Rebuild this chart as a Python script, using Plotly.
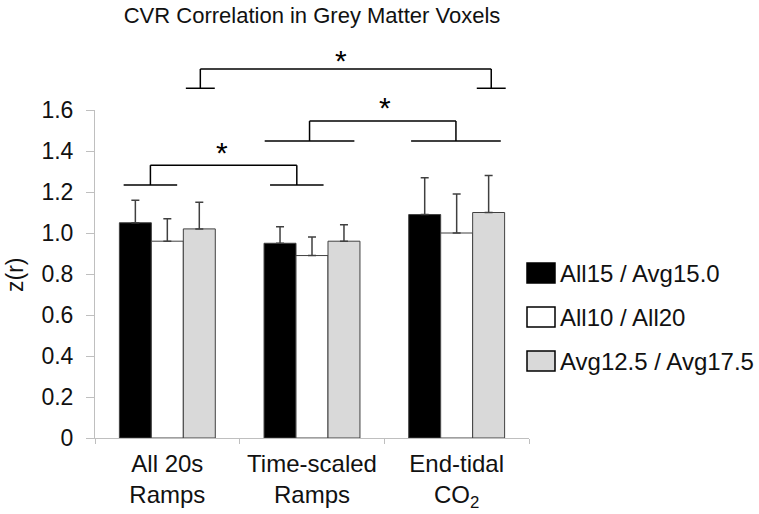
import plotly.graph_objects as go

# ---- data ----
categories = ["All 20s<br>Ramps", "Time-scaled<br>Ramps", "End-tidal<br>CO<sub>2</sub>"]
series_names = ["All15 / Avg15.0", "All10 / All20", "Avg12.5 / Avg17.5"]
black_vals = [1.05, 0.95, 1.09]
black_err = [0.11, 0.08, 0.18]
white_vals = [0.96, 0.89, 1.00]
white_err = [0.11, 0.09, 0.19]
grey_vals = [1.02, 0.96, 1.10]
grey_err = [0.13, 0.08, 0.18]
y_tickvals = [0, 0.2, 0.4, 0.6, 0.8, 1.0, 1.2, 1.4, 1.6]
y_ticktext = ["0", "0.2", "0.4", "0.6", "0.8", "1.0", "1.2", "1.4", "1.6"]

# significance brackets: (left x, right x, foot z, top z, foot half width, star x, star z)
brackets = [
    (-0.117, 0.895, 1.234, 1.331, 0.185, 0.38, 1.395),
    (0.983, 1.995, 1.449, 1.546, 0.31, 1.507, 1.61),
    (0.228, 2.239, 1.706, 1.800, 0.10, 1.20, 1.84),
]

FONT = "Liberation Sans, Arial, sans-serif"
fills = ["#000000", "#ffffff", "#d9d9d9"]
vals = [black_vals, white_vals, grey_vals]
errs = [black_err, white_err, grey_err]
xpos = list(range(len(categories)))

W, H = 759, 514
# plot area in pixels
L, R, T, B = 95, 529, 110, 438

fig = go.Figure()
for name, v, e, c in zip(series_names, vals, errs, fills):
    fig.add_trace(go.Bar(
        x=xpos, y=v, name=name, showlegend=False,
        marker=dict(color=c, line=dict(color="#404040", width=1)),
        error_y=dict(type="data", array=e, arrayminus=[0] * len(e), symmetric=False,
                     color="#404040", thickness=1.5, width=4),
    ))

YMAX = 1.6
def px_(x):
    return (x + 0.5) / 3.0
def py_(z):
    return z / YMAX

shapes = []
annotations = []
for (xl, xr, zf, zt, hw, sx, sz) in brackets:
    line = dict(color="black", width=1.5)
    shapes.append(dict(type="line", xref="paper", yref="paper", x0=px_(xl), x1=px_(xr),
                       y0=py_(zt), y1=py_(zt), line=line))
    for xx in (xl, xr):
        shapes.append(dict(type="line", xref="paper", yref="paper", x0=px_(xx), x1=px_(xx),
                           y0=py_(zf), y1=py_(zt), line=line))
        shapes.append(dict(type="line", xref="paper", yref="paper", x0=px_(xx - hw), x1=px_(xx + hw),
                           y0=py_(zf), y1=py_(zf), line=line))
    annotations.append(dict(text="*", xref="paper", yref="paper", x=px_(sx), y=py_(sz),
                            showarrow=False, font=dict(family=FONT, size=30, color="black"),
                            xanchor="center", yanchor="middle"))

def lx(p):
    return (p - L) / (R - L)
def ly(p):
    return (B - p) / (B - T)
legend_centers = [273, 317, 361]
for name, c, cy in zip(series_names, fills, legend_centers):
    shapes.append(dict(type="rect", xref="paper", yref="paper", x0=lx(527), x1=lx(555),
                       y0=ly(cy - 10), y1=ly(cy + 10), fillcolor=c,
                       line=dict(color="black", width=1.5)))
    annotations.append(dict(text=name, xref="paper", yref="paper", x=lx(558), y=ly(cy),
                            xanchor="left", yanchor="middle", showarrow=False,
                            font=dict(family=FONT, size=24, color="#111111")))

annotations.append(dict(text="z(r)", xref="paper", yref="paper", x=lx(15), y=ly(275),
                        xanchor="center", yanchor="middle", textangle=-90, showarrow=False,
                        font=dict(family=FONT, size=23, color="#111111")))

fig.update_layout(
    width=W, height=H,
    margin=dict(l=L, r=W - R, t=T, b=H - B, pad=0),
    paper_bgcolor="white", plot_bgcolor="white",
    barmode="group", bargap=0.337, bargroupgap=0,
    font=dict(family=FONT, size=23, color="#111111"),
    title=dict(text="CVR Correlation in Grey Matter Voxels", x=0.5, xref="paper",
               y=1 - 15 / H, yref="container", xanchor="center", yanchor="middle",
               font=dict(family=FONT, size=22, color="#111111")),
    shapes=shapes, annotations=annotations,
    xaxis=dict(range=[-0.5, 2.5], tickvals=xpos, ticktext=categories, ticks="",
               automargin=False, ticklabelstandoff=4,
               showline=True, linecolor="#bfbfbf", linewidth=1, showgrid=False, zeroline=False,
               tickfont=dict(family=FONT, size=24, color="#111111"),
               minor=dict(tickvals=[-0.5, 0.5, 1.5, 2.5], ticks="outside", ticklen=5,
                          tickcolor="#bfbfbf", tickwidth=1, showgrid=False)),
    yaxis=dict(range=[0, YMAX], tickvals=y_tickvals, ticktext=y_ticktext, ticks="outside",
               automargin=False, ticklabelstandoff=8,
               ticklen=8, tickcolor="#bfbfbf", showline=True, linecolor="#bfbfbf", linewidth=1,
               showgrid=False, zeroline=False,
               tickfont=dict(family=FONT, size=23, color="#111111")),
)

# remove the page's default body margin so the figure fills the window exactly
fig.write_html("out.html", config={"displayModeBar": False},
               post_script="document.body.style.margin='0px';")
